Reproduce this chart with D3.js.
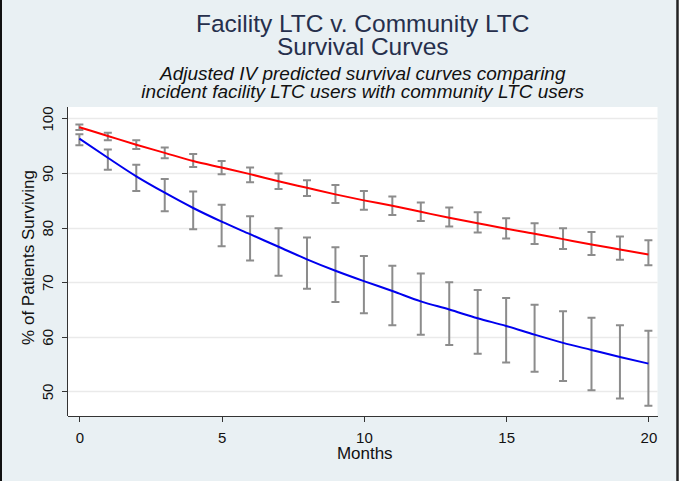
<html>
<style>
body { margin: 0; background: #ffffff; }
svg { display: block; font-family: Arial, "Liberation Sans", sans-serif; }
.axis path, .axis line { stroke: #333; shape-rendering: crispEdges; }
.axis text { font-size: 15px; fill: #111; }
</style>
<svg width="680" height="481"></svg>
<script src="https://d3js.org/d3.v7.min.js"></script>
<script>

// months 0..20
var months = [0,1,2,3,4,5,6,7,8,9,10,11,12,13,14,15,16,17,18,19,20];

// red curve (facility LTC)
var redEst = [98.4,96.8,95.2,93.7,92.2,91.0,89.8,88.5,87.3,86.1,85.0,84.0,82.9,81.8,80.8,79.8,78.9,77.9,76.9,76.0,75.1];
var redLo  = [97.9,96.0,94.4,92.7,91.1,89.8,88.3,87.1,85.8,84.5,83.3,82.3,81.2,80.2,79.1,78.0,77.0,76.1,75.0,74.1,73.1];
var redHi  = [98.9,97.4,96.0,94.7,93.5,92.2,91.0,89.9,88.7,87.8,86.7,85.7,84.6,83.7,82.8,81.7,80.8,79.9,79.2,78.4,77.7];

// blue curve (community LTC)
var blueEst = [96.3,92.8,89.4,86.4,83.6,81.1,78.8,76.5,74.2,72.1,70.2,68.4,66.5,65.0,63.4,62.0,60.4,58.9,57.6,56.3,55.1];
var blueLo  = [95.1,90.6,86.7,83.0,79.7,76.6,74.0,71.2,68.8,66.4,64.3,62.1,60.4,58.5,56.9,55.3,53.6,51.9,50.2,48.7,47.4];
var blueHi  = [97.1,94.3,91.5,88.9,86.6,84.2,82.1,79.9,78.2,76.4,74.8,73.0,71.6,70.0,68.6,67.1,65.9,64.7,63.5,62.1,61.1];

var xTicks = [0,5,10,15,20];
var yTicks = [50,60,70,80,90,100];

var svg = d3.select("svg");
var W = 680, H = 481;
var plot = {left: 68, right: 657.5, top: 107, bottom: 416};

// background + frame
svg.append("rect").attr("x", 0).attr("y", 0).attr("width", 678).attr("height", H).attr("fill", "#e9f0f3");
svg.append("line").attr("x1", 1).attr("x2", 1).attr("y1", 0).attr("y2", H).attr("stroke", "#111").attr("stroke-width", 2);
svg.append("line").attr("x1", 677.5).attr("x2", 677.5).attr("y1", 0).attr("y2", H).attr("stroke", "#222").attr("stroke-width", 2.5);

var x = d3.scaleLinear().domain([-0.4, 20.32]).range([plot.left, plot.right]);
var y = d3.scaleLinear().domain([45.5, 102.1]).range([plot.bottom, plot.top]);

svg.append("rect")
    .attr("x", plot.left).attr("y", plot.top)
    .attr("width", plot.right - plot.left).attr("height", plot.bottom - plot.top)
    .attr("fill", "#fff");

// gridlines
svg.append("g").selectAll("line").data(yTicks).join("line")
    .attr("x1", plot.left).attr("x2", plot.right)
    .attr("y1", d => Math.round(y(d)) + 0.5).attr("y2", d => Math.round(y(d)) + 0.5)
    .attr("stroke", "#eaeaea").attr("stroke-width", 1.5);

// axes
svg.append("g").attr("class", "axis")
    .attr("transform", "translate(0," + plot.bottom + ")")
    .call(d3.axisBottom(x).tickValues(xTicks).tickSize(6).tickPadding(10).tickSizeOuter(0))
    .call(g => g.select(".domain").attr("d", "M" + plot.left + ",0.5H" + plot.right));

var yAxis = svg.append("g").attr("class", "axis")
    .attr("transform", "translate(" + plot.left + ",0)")
    .call(d3.axisLeft(y).tickValues(yTicks).tickSize(6).tickSizeOuter(0))
    .call(g => g.select(".domain").attr("d", "M-0.5," + plot.top + "V" + plot.bottom));
yAxis.selectAll(".tick text")
    .attr("x", 0).attr("dy", null)
    .attr("transform", "translate(-15,0) rotate(-90)")
    .attr("text-anchor", "middle")
    .attr("dominant-baseline", "auto");

// error bars
function errBars(lo, hi, cls) {
    var g = svg.append("g").attr("class", cls)
        .attr("stroke", "#8c8c8c").attr("stroke-width", 2).attr("fill", "none");
    g.selectAll("path").data(months).join("path")
        .attr("d", (d, i) => {
            var cx = x(d), y0 = y(lo[i]), y1 = y(hi[i]), c = 4;
            return "M" + (cx - c) + "," + y1 + "H" + (cx + c) +
                   "M" + cx + "," + y1 + "V" + y0 +
                   "M" + (cx - c) + "," + y0 + "H" + (cx + c);
        });
}
errBars(redLo, redHi, "err-red");
errBars(blueLo, blueHi, "err-blue");

var line = d3.line().x((d, i) => x(months[i])).y(d => y(d)).curve(d3.curveMonotoneX);

svg.append("path").datum(redEst).attr("d", line)
    .attr("fill", "none").attr("stroke", "#ff0000").attr("stroke-width", 2);
svg.append("path").datum(blueEst).attr("d", line)
    .attr("fill", "none").attr("stroke", "#0000ee").attr("stroke-width", 2);

// titles
var cx = (plot.left + plot.right) / 2;
svg.append("text").attr("x", cx).attr("y", 32).attr("text-anchor", "middle")
    .attr("font-size", 24.5).attr("fill", "#262f4c").text("Facility LTC v. Community LTC");
svg.append("text").attr("x", cx).attr("y", 55).attr("text-anchor", "middle")
    .attr("font-size", 24.5).attr("fill", "#262f4c").text("Survival Curves");
svg.append("text").attr("x", cx).attr("y", 80).attr("text-anchor", "middle")
    .attr("font-size", 19).attr("font-style", "italic").attr("fill", "#111").text("Adjusted IV predicted survival curves comparing");
svg.append("text").attr("x", cx).attr("y", 98).attr("text-anchor", "middle")
    .attr("font-size", 19).attr("font-style", "italic").attr("fill", "#111").text("incident facility LTC users with community LTC users");

// axis titles
svg.append("text").attr("x", (plot.left + plot.right) / 2 + 2).attr("y", 459)
    .attr("text-anchor", "middle").attr("font-size", 17).attr("fill", "#111").text("Months");
svg.append("text")
    .attr("transform", "translate(34,257.5) rotate(-90)")
    .attr("text-anchor", "middle").attr("font-size", 17).attr("fill", "#111")
    .text("% of Patients Surviving");

</script>
</html>
